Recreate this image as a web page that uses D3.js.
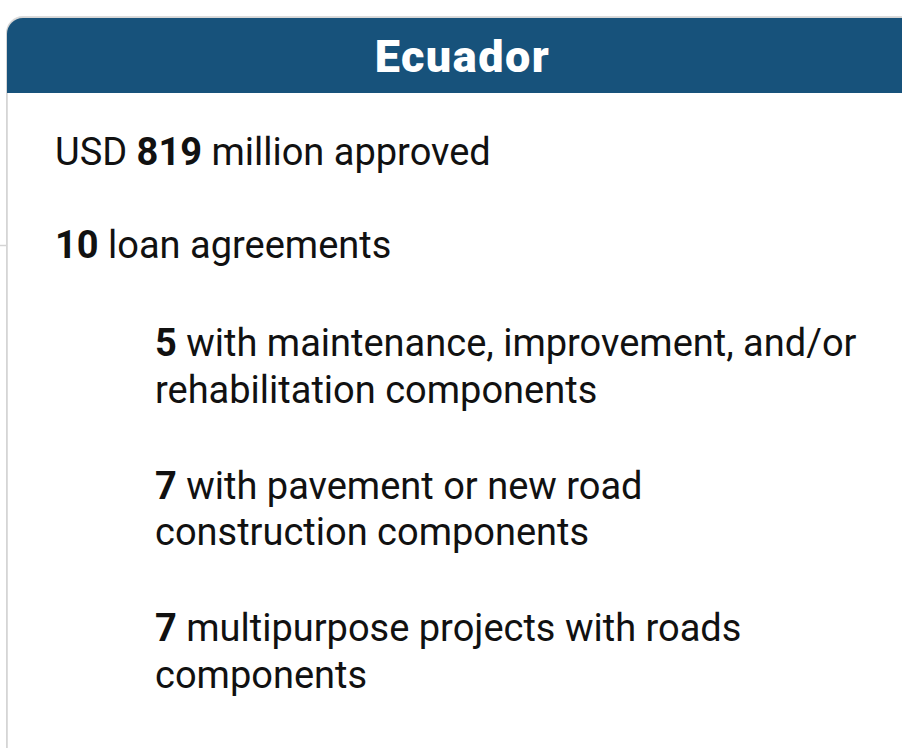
<!DOCTYPE html>
<html>
<head>
<meta charset="utf-8">
<script src="https://cdn.jsdelivr.net/npm/d3@7"></script>
<style>
  body { margin: 0; background: #fff; }
  svg text { font-family: Roboto, "Noto Sans", sans-serif; }
</style>
</head>
<body>
<div id="card"></div>
<script>
// card content
var country = "Ecuador"
var amount = "819"
var loanCount = "10"
var subCounts = ["5", "7", "7"]
var subLabels = [
	["with maintenance, improvement, and/or", "rehabilitation components"],
	["with pavement or new road", "construction components"],
	["multipurpose projects with roads", "components"]
]

var width = 902
var height = 748
var cardX = 7, cardY = 18, cardR = 918, rad = 16
var headerH = 75
var blue = "#17527b"

var svg = d3.select("#card")
	.append("svg")
	.attr("width", width)
	.attr("height", height)

// little gray stub on the left
svg.append("line")
	.attr("x1", 0).attr("x2", cardX)
	.attr("y1", 245.5).attr("y2", 245.5)
	.style("stroke", "#d4d4d4")
	.style("stroke-width", 1.5)

// card outline
var p = d3.path()
p.moveTo(cardX, height + 10)
p.lineTo(cardX, cardY + rad)
p.arcTo(cardX, cardY, cardX + rad, cardY, rad)
p.lineTo(cardR, cardY)
p.lineTo(cardR, height + 10)

svg.append("path")
	.attr("d", p.toString())
	.attr("transform", "translate(0,-1)")
	.style("fill", "none")
	.style("stroke", "#dcdcdc")
	.style("stroke-width", 2)

svg.append("path")
	.attr("d", p.toString())
	.style("fill", "#fff")
	.style("stroke", "#d2d2d2")
	.style("stroke-width", 1.5)

// header band
var h = d3.path()
h.moveTo(cardX, cardY + headerH)
h.lineTo(cardX, cardY + rad)
h.arcTo(cardX, cardY, cardX + rad, cardY, rad)
h.lineTo(cardR, cardY)
h.lineTo(cardR, cardY + headerH)
h.closePath()

svg.append("path")
	.attr("d", h.toString())
	.style("fill", blue)

svg.append("text")
	.attr("x", (cardX + cardR) / 2)
	.attr("y", 72)
	.attr("text-anchor", "middle")
	.style("fill", "#fff")
	.style("font-size", "45px")
	.style("font-weight", 900)
	.style("letter-spacing", "1.5px")
	.text(country)

// body lines
var fs = "38px"
var ink = "#111"

var t1 = svg.append("text").attr("x", 55).attr("y", 165)
	.style("font-size", fs).style("fill", ink)
t1.append("tspan").text("USD ")
t1.append("tspan").style("font-weight", 700).text(amount)
t1.append("tspan").text(" million approved")

var t2 = svg.append("text").attr("x", 55).attr("y", 258)
	.style("font-size", fs).style("fill", ink)
t2.append("tspan").style("font-weight", 700).text(loanCount)
t2.append("tspan").text(" loan agreements")

var y0 = 356, lineGap = 46.5, blockGap = 142.5
subCounts.forEach(function (n, i) {
	var t = svg.append("text")
		.attr("x", 155)
		.attr("y", y0 + i * blockGap)
		.style("font-size", fs)
		.style("fill", ink)
	t.append("tspan").style("font-weight", 700).text(n)
	t.append("tspan").text(" " + subLabels[i][0])
	t.append("tspan")
		.attr("x", 155)
		.attr("dy", lineGap)
		.text(subLabels[i][1])
})
</script>
</body>
</html>
